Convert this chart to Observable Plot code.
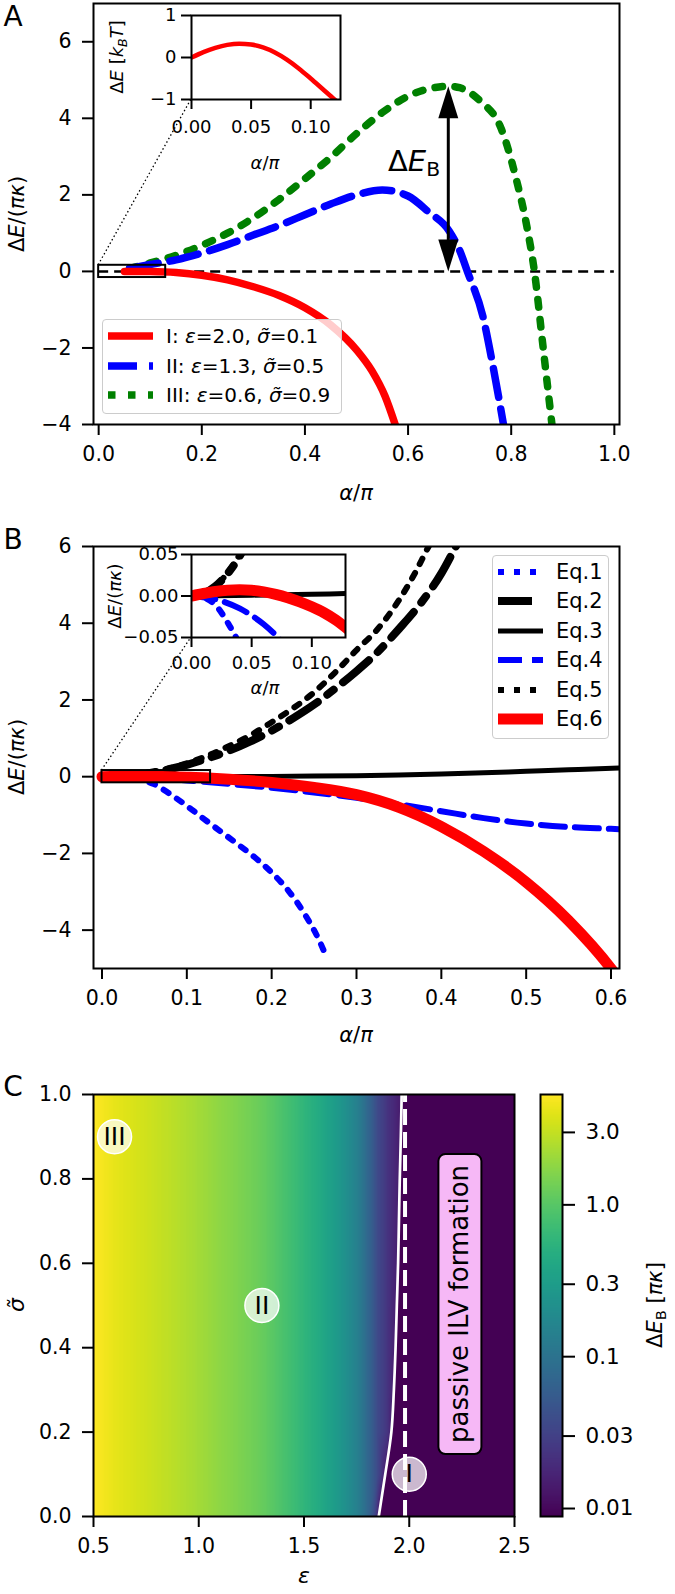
<!DOCTYPE html>
<html>
<head>
<meta charset="utf-8">
<script src="https://cdn.jsdelivr.net/npm/d3@7"></script>
<script src="https://cdn.jsdelivr.net/npm/@observablehq/plot@0.6"></script>
<style>
  html, body { margin: 0; padding: 0; background: #fff; }
  #root { position: relative; width: 675px; height: 1594px; overflow: hidden; font-family: "DejaVu Sans", sans-serif; color: #000; }
  #root svg { position: absolute; }
  .lbl { position: absolute; white-space: nowrap; line-height: 1; }
  .sub { font-size: 0.7em; vertical-align: -0.28em; }
  .legend { position: absolute; background: rgba(255,255,255,0.8); border: 1px solid #cccccc; border-radius: 4px; box-sizing: border-box; }
  .pbox { position: absolute; white-space: nowrap; background: #f6b8f6; border: 2px solid #000; border-radius: 8px; padding: 5px 10px; line-height: 1.2; }
</style>
</head>
<body>
<div id="root"></div>
<script>
// ---------------- DATA ----------------
// Panel A : Delta E/(pi kappa) vs alpha/pi
const aX_I   = [0.05, 0.1, 0.15, 0.2, 0.25, 0.3, 0.35, 0.4, 0.45, 0.5, 0.53, 0.555, 0.575];
const aY_I   = [0, -0.005, -0.03, -0.1, -0.22, -0.4, -0.63, -0.95, -1.4, -2.05, -2.6, -3.25, -4.0];
const aX_II  = [0.06, 0.1, 0.15, 0.2, 0.25, 0.3, 0.35, 0.4, 0.45, 0.5, 0.55, 0.6, 0.64, 0.68, 0.7, 0.715, 0.745, 0.765, 0.785];
const aY_II  = [0.08, 0.18, 0.3, 0.48, 0.7, 0.95, 1.2, 1.48, 1.76, 2.0, 2.13, 1.97, 1.55, 1.05, 0.55, 0.0, -1.17, -2.5, -4.0];
const aX_III = [0.06, 0.1, 0.15, 0.2, 0.25, 0.3, 0.35, 0.4, 0.45, 0.5, 0.55, 0.6, 0.65, 0.678, 0.7, 0.74, 0.78, 0.81, 0.83, 0.845, 0.862, 0.879];
const aY_III = [0.08, 0.22, 0.42, 0.68, 1.0, 1.4, 1.88, 2.42, 2.98, 3.6, 4.15, 4.58, 4.8, 4.84, 4.8, 4.45, 3.75, 2.4, 1.2, 0.0, -2.0, -4.0];
const aXTicks = [0, 0.2, 0.4, 0.6, 0.8, 1.0];
const aYTicks = [-4, -2, 0, 2, 4, 6];
const zeroLineX = [0, 1.0];
const barrierArrow = {x: 0.678, y0: 0, y1: 4.84};
const zoomRectA = {x1: 0, x2: 0.13, y1: -0.16, y2: 0.16};
// inset A (kBT units)
const insAX = [0, 0.01, 0.02, 0.03, 0.04, 0.05, 0.06, 0.07, 0.08, 0.09, 0.1, 0.11, 0.12, 0.125];
const insAY = [0, 0.13, 0.23, 0.3, 0.33, 0.31, 0.24, 0.12, -0.05, -0.26, -0.5, -0.75, -1.0, -1.12];
const insAXTicks = [0, 0.05, 0.1];
const insAYTicks = [-1, 0, 1];
const legendA = ["I", "II", "III"];
const legendAeps = ["2.0", "1.3", "0.6"];
const legendAsig = ["0.1", "0.5", "0.9"];

// Panel B : approximations Eq.1 .. Eq.6
const bX1 = [0, 0.01, 0.02, 0.03, 0.04, 0.05, 0.062, 0.08, 0.1, 0.12, 0.14, 0.16, 0.18, 0.2, 0.22, 0.24, 0.255, 0.265];
const bY1 = [0, -0.002, -0.011, -0.032, -0.06, -0.11, -0.2, -0.45, -0.76, -1.1, -1.43, -1.76, -2.1, -2.5, -2.98, -3.62, -4.22, -4.72];
const bX2 = [0, 0.01, 0.02, 0.03, 0.04, 0.06, 0.08, 0.1, 0.125, 0.15, 0.175, 0.2, 0.225, 0.25, 0.275, 0.3, 0.325, 0.35, 0.375, 0.4, 0.417, 0.425];
const bY2 = [0, 0.003, 0.012, 0.027, 0.048, 0.11, 0.2, 0.31, 0.48, 0.68, 0.92, 1.2, 1.52, 1.88, 2.3, 2.75, 3.25, 3.85, 4.5, 5.3, 6.0, 6.35];
const bX3 = [0, 0.05, 0.1, 0.15, 0.2, 0.25, 0.3, 0.35, 0.4, 0.45, 0.5, 0.55, 0.61];
const bY3 = [0, 0.001, 0.002, 0.004, 0.008, 0.015, 0.027, 0.045, 0.07, 0.1, 0.14, 0.18, 0.23];
const bX4 = [0, 0.02, 0.04, 0.06, 0.07, 0.1, 0.15, 0.2, 0.25, 0.3, 0.35, 0.4, 0.45, 0.5, 0.55, 0.6, 0.61];
const bY4 = [0, -0.004, -0.015, -0.034, -0.047, -0.1, -0.19, -0.29, -0.41, -0.55, -0.72, -0.9, -1.08, -1.22, -1.31, -1.36, -1.37];
const bX5 = [0, 0.01, 0.02, 0.03, 0.04, 0.06, 0.08, 0.1, 0.125, 0.15, 0.175, 0.2, 0.225, 0.25, 0.275, 0.3, 0.325, 0.35, 0.37, 0.385, 0.39];
const bY5 = [0, 0.003, 0.012, 0.028, 0.05, 0.12, 0.22, 0.35, 0.55, 0.8, 1.08, 1.42, 1.78, 2.2, 2.72, 3.3, 3.85, 4.6, 5.35, 6.0, 6.2];
const bX6 = [0, 0.01, 0.02, 0.03, 0.04, 0.05, 0.06, 0.07, 0.08, 0.09, 0.1, 0.11, 0.12, 0.13, 0.15, 0.2, 0.25, 0.3, 0.35, 0.4, 0.45, 0.5, 0.55, 0.6, 0.61];
const bY6 = [0, 0.003, 0.0055, 0.007, 0.0075, 0.007, 0.005, 0.002, -0.002, -0.007, -0.013, -0.02, -0.029, -0.04, -0.065, -0.15, -0.28, -0.47, -0.8, -1.3, -1.95, -2.75, -3.75, -5.0, -5.3];
const bXTicks = [0, 0.1, 0.2, 0.3, 0.4, 0.5, 0.6];
const bYTicks = [-4, -2, 0, 2, 4, 6];
const zoomRectB = {x1: 0, x2: 0.128, y1: -0.16, y2: 0.16};
const insBXTicks = [0, 0.05, 0.1];
const insBYTicks = [-0.05, 0, 0.05];
const legendB = ["Eq.1", "Eq.2", "Eq.3", "Eq.4", "Eq.5", "Eq.6"];

// Panel C : barrier height map over (epsilon, sigma~)
const epsCols   = [0.5, 0.6, 0.7, 0.8, 0.9, 1.0, 1.1, 1.2, 1.3, 1.4, 1.5, 1.6, 1.7, 1.8, 1.85, 1.9, 1.95];
const barrierEB = [5.3, 4.2, 3.6, 3.1, 2.65, 2.2, 1.8, 1.5, 1.2, 0.85, 0.58, 0.38, 0.21, 0.075, 0.036, 0.022, 0.015];
const bndSigma  = [0, 0.1, 0.2, 0.3, 0.4, 0.5, 0.6, 0.7, 0.8, 0.9, 1.0];
const bndEps    = [1.855, 1.886, 1.915, 1.927, 1.935, 1.941, 1.947, 1.951, 1.955, 1.96, 1.964];
const edgeValue = 0.015;       // barrier just left of the white line
const passiveValue = 0.00886;  // passive region (colour floor)
const maxValue = 5.33;
const epsMax = 2.5;
const critEps = 1.98;
const cXTicks = [0.5, 1.0, 1.5, 2.0, 2.5];
const cYTicks = [0, 0.2, 0.4, 0.6, 0.8, 1.0];
const caseLabels = ["III", "II", "I"];
const caseEps    = [0.6, 1.3, 2.0];
const caseSigma  = [0.9, 0.5, 0.1];
const cbTicks  = [3.0, 1.0, 0.3, 0.1, 0.03, 0.01];
const cbLabels = ["3.0", "1.0", "0.3", "0.1", "0.03", "0.01"];

// ---------------- HELPERS ----------------
const root = document.getElementById("root");
const FONT = '"DejaVu Sans", sans-serif';
const FS = 20.5, FSI = 18;
const pts = (xs, ys) => xs.map((x, i) => ({x, y: ys[i]}));
function put(el, left, top) { el.style.position = "absolute"; el.style.left = left + "px"; el.style.top = top + "px"; root.appendChild(el); return el; }
const baseStyle = (fs) => ({background: "transparent", fontFamily: FONT, fontSize: fs + "px", color: "black", overflow: "visible"});
function label(html, cx, cy, size, rotate) {
  const d = document.createElement("div");
  d.className = "lbl";
  d.innerHTML = html;
  d.style.left = cx + "px"; d.style.top = cy + "px";
  d.style.fontSize = size + "px";
  d.style.transform = "translate(-50%,-50%)" + (rotate ? ` rotate(${rotate}deg)` : "");
  root.appendChild(d);
  return d;
}
const headSym = { draw(ctx) { ctx.moveTo(0, 0); ctx.lineTo(-10, 32); ctx.lineTo(10, 32); ctx.closePath(); } };
const fmt1 = d3.format(".1f"), fmt2 = d3.format(".2f"), fmtD = d3.format("d");

// ---------------- PANEL A ----------------
const styleI   = {stroke: "#ff0000", strokeWidth: 7.5};
const styleII  = {stroke: "#0000ff", strokeWidth: 7.5, strokeDasharray: "29,12"};
const styleIII = {stroke: "#008000", strokeWidth: 7.5, strokeDasharray: "7.5,12.5"};
const pA = Plot.plot({
  width: 675, height: 520, marginLeft: 93, marginRight: 56, marginTop: 3, marginBottom: 96,
  x: {domain: [-0.01, 1.01]}, y: {domain: [-4, 7]},
  style: baseStyle(FS),
  marks: [
    Plot.ruleY([0], {x1: zeroLineX[0], x2: zeroLineX[1], stroke: "black", strokeWidth: 2.5, strokeDasharray: "10,6"}),
    Plot.line(pts(aX_III, aY_III), {x: "x", y: "y", ...styleIII, curve: "monotone-x", clip: true}),
    Plot.line(pts(aX_II, aY_II), {x: "x", y: "y", ...styleII, curve: "monotone-x", clip: true}),
    Plot.line(pts(aX_I, aY_I), {x: "x", y: "y", ...styleI, curve: "monotone-x", clip: true}),
    Plot.rect([zoomRectA], {x1: "x1", x2: "x2", y1: "y1", y2: "y2", fill: "none", stroke: "black", strokeWidth: 2}),
    Plot.ruleX([barrierArrow], {x: "x", y1: d => d.y0 + 0.5, y2: d => d.y1 - 0.5, stroke: "black", strokeWidth: 3}),
    Plot.dot([barrierArrow], {x: "x", y: "y1", symbol: headSym, fill: "black", stroke: "none"}),
    Plot.dot([barrierArrow], {x: "x", y: "y0", symbol: headSym, rotate: 180, fill: "black", stroke: "none"}),
    Plot.frame({stroke: "black", strokeWidth: 2}),
    Plot.axisX({ticks: aXTicks, tickFormat: fmt1, tickSize: 11, tickPadding: 11, label: null, strokeWidth: 2}),
    Plot.axisY({ticks: aYTicks, tickFormat: fmtD, tickSize: 11, tickPadding: 11, label: null, strokeWidth: 2})
  ]
});
put(pA, 0, 0);

// ---------------- PANEL B ----------------
const sEq = [
  {stroke: "#0000ff", strokeWidth: 6, strokeDasharray: "6,10"},
  {stroke: "#000000", strokeWidth: 8, strokeDasharray: "34,12,8,12"},
  {stroke: "#000000", strokeWidth: 5},
  {stroke: "#0000ff", strokeWidth: 6, strokeDasharray: "24,10"},
  {stroke: "#000000", strokeWidth: 6, strokeDasharray: "6,10"},
  {stroke: "#ff0000", strokeWidth: 11}
];
const bSeries = [pts(bX1, bY1), pts(bX2, bY2), pts(bX3, bY3), pts(bX4, bY4), pts(bX5, bY5), pts(bX6, bY6)];
const pB = Plot.plot({
  width: 675, height: 540, marginLeft: 93, marginRight: 56, marginTop: 26, marginBottom: 92,
  x: {domain: [-0.01, 0.61]}, y: {domain: [-5, 6]},
  style: baseStyle(FS),
  marks: [
    ...bSeries.map((s, i) => Plot.line(s, {x: "x", y: "y", ...sEq[i], curve: "monotone-x", clip: true})),
    Plot.rect([zoomRectB], {x1: "x1", x2: "x2", y1: "y1", y2: "y2", fill: "none", stroke: "black", strokeWidth: 2}),
    Plot.frame({stroke: "black", strokeWidth: 2}),
    Plot.axisX({ticks: bXTicks, tickFormat: fmt1, tickSize: 11, tickPadding: 11, label: null, strokeWidth: 2}),
    Plot.axisY({ticks: bYTicks, tickFormat: fmtD, tickSize: 11, tickPadding: 11, label: null, strokeWidth: 2})
  ]
});
put(pB, 0, 520);

// ---------------- PANEL C ----------------
const cells = [];
bndSigma.forEach((s, r) => {
  const eb = bndEps[r];
  epsCols.forEach((e, c) => { if (e <= eb - 0.01) cells.push({e, s, v: barrierEB[c]}); });
  cells.push({e: eb - 0.003, s, v: edgeValue});
  cells.push({e: eb + 0.003, s, v: passiveValue});
  cells.push({e: epsMax, s, v: passiveValue});
});
const circles = caseLabels.map((t, i) => ({t, x: caseEps[i], y: caseSigma[i]}));
const pC = Plot.plot({
  width: 530, height: 534, marginLeft: 93, marginRight: 16, marginTop: 34, marginBottom: 78,
  x: {domain: [0.5, 2.5]}, y: {domain: [0, 1]},
  color: {type: "log", domain: [passiveValue, maxValue], scheme: "viridis"},
  style: baseStyle(FS),
  marks: [
    Plot.raster(cells, {x: "e", y: "s", fill: "v", interpolate: "barycentric", x1: 0.5, x2: 2.5, y1: 0, y2: 1}),
    Plot.line(pts(bndEps, bndSigma), {x: "x", y: "y", stroke: "white", strokeWidth: 2.7, curve: "monotone-y"}),
    Plot.ruleX([critEps], {y1: 0, y2: 1, stroke: "white", strokeWidth: 4, strokeDasharray: "16,7"}),
    Plot.dot(circles, {x: "x", y: "y", r: 17, fill: "white", fillOpacity: 0.72, stroke: "white", strokeWidth: 1.5}),
    Plot.text(circles, {x: "x", y: "y", text: "t", fontSize: 25, fill: "black"}),
    Plot.frame({stroke: "black", strokeWidth: 2}),
    Plot.axisX({ticks: cXTicks, tickFormat: fmt1, tickSize: 11, tickPadding: 11, label: null, strokeWidth: 2}),
    Plot.axisY({ticks: cYTicks, tickFormat: fmt1, tickSize: 11, tickPadding: 11, label: null, strokeWidth: 2})
  ]
});
put(pC, 0, 1060);

// colourbar
const lo = Math.log10(passiveValue), hi = Math.log10(maxValue);
const pCB = Plot.plot({
  width: 155, height: 534, marginLeft: 20, marginRight: 113, marginTop: 34, marginBottom: 78,
  x: {domain: [0, 1], axis: null}, y: {domain: [lo, hi]},
  color: {type: "log", domain: [passiveValue, maxValue], scheme: "viridis"},
  style: baseStyle(21.5),
  marks: [
    Plot.raster({fill: (x, y) => Math.pow(10, y), x1: 0, x2: 1, y1: lo, y2: hi}),
    Plot.frame({stroke: "black", strokeWidth: 2}),
    Plot.axisY({anchor: "right", ticks: cbTicks.map(Math.log10), tickSize: 12, tickPadding: 11, label: null, strokeWidth: 2,
      tickFormat: d => cbLabels[cbTicks.findIndex(t => Math.abs(Math.log10(t) - d) < 1e-9)]})
  ]
});
put(pCB, 520, 1060);

// ---------------- CONNECTORS (dotted) ----------------
const ov = d3.create("svg").attr("width", 675).attr("height", 1594).style("left", "0px").style("top", "0px").style("pointer-events", "none");
root.appendChild(ov.node());

// ---------------- INSETS ----------------
const iA = Plot.plot({
  width: 240, height: 150, marginLeft: 71, marginRight: 20, marginTop: 15, marginBottom: 51,
  x: {domain: [0, 0.125]}, y: {domain: [-1, 1]},
  style: baseStyle(FSI),
  marks: [
    Plot.frame({fill: "white"}),
    Plot.line(pts(insAX, insAY), {x: "x", y: "y", stroke: "#ff0000", strokeWidth: 4.5, curve: "monotone-x", clip: true}),
    Plot.frame({stroke: "black", strokeWidth: 2}),
    Plot.axisX({ticks: insAXTicks, tickFormat: fmt2, tickSize: 10, tickPadding: 11, label: null, strokeWidth: 2}),
    Plot.axisY({ticks: insAYTicks, tickFormat: fmtD, tickSize: 10, tickPadding: 5, label: null, strokeWidth: 2})
  ]
});
put(iA, 120, 0);

const iB = Plot.plot({
  width: 250, height: 150, marginLeft: 81, marginRight: 15, marginTop: 24, marginBottom: 43,
  x: {domain: [0, 0.128]}, y: {domain: [-0.05, 0.05]},
  style: baseStyle(FSI),
  marks: [
    Plot.frame({fill: "white"}),
    ...bSeries.map((s, i) => Plot.line(s, {x: "x", y: "y", ...sEq[i], curve: "monotone-x", clip: true})),
    Plot.frame({stroke: "black", strokeWidth: 2}),
    Plot.axisX({ticks: insBXTicks, tickFormat: fmt2, tickSize: 10, tickPadding: 9, label: null, strokeWidth: 2}),
    Plot.axisY({ticks: insBYTicks, tickFormat: fmt2, tickSize: 10, tickPadding: 3, label: null, strokeWidth: 2})
  ]
});
put(iB, 110, 530);

// connectors from the zoom rectangles to the inset corners
function connector(mainPlot, mainTop, rect, inset, insLeft, insTop, insX0, insY0) {
  const mx = mainPlot.scale("x").apply(rect.x1), my = mainPlot.scale("y").apply(rect.y2) + mainTop;
  const ix = inset.scale("x").apply(insX0) + insLeft, iy = inset.scale("y").apply(insY0) + insTop;
  ov.append("line").attr("x1", mx).attr("y1", my).attr("x2", ix).attr("y2", iy)
    .attr("stroke", "black").attr("stroke-width", 1.3).attr("stroke-dasharray", "1.5,2.5");
}
connector(pA, 0, zoomRectA, iA, 120, 0, 0, -1);
connector(pB, 520, zoomRectB, iB, 110, 530, 0, -0.05);

// ---------------- LEGENDS ----------------
function makeLegend(box, rows, sx0, sx1, tx, fs) {
  const div = document.createElement("div");
  div.className = "legend";
  Object.assign(div.style, {left: box.left + "px", top: box.top + "px", width: box.width + "px", height: box.height + "px"});
  const svg = d3.create("svg").attr("width", box.width).attr("height", box.height).style("left", "-1px").style("top", "-1px").style("overflow", "visible");
  rows.forEach(r => {
    svg.append("line").attr("x1", sx0).attr("x2", sx1).attr("y1", r.y).attr("y2", r.y)
      .attr("stroke", r.style.stroke).attr("stroke-width", r.style.strokeWidth)
      .attr("stroke-dasharray", r.style.strokeDasharray || null);
    const t = document.createElement("div");
    t.className = "lbl"; t.innerHTML = r.html;
    t.style.left = (tx - 1) + "px"; t.style.top = (r.y - 1) + "px"; t.style.fontSize = fs + "px";
    t.style.transform = "translateY(-50%)";
    div.appendChild(t);
  });
  div.prepend(svg.node());
  root.appendChild(div);
}
const aStyles = [styleI, styleII, styleIII];
const aRowY = [17, 47, 76];
makeLegend({left: 102, top: 319, width: 240, height: 95},
  legendA.map((n, i) => ({y: aRowY[i], style: aStyles[i],
    html: `${n}: <i>ε</i>=${legendAeps[i]}, <i>σ̃</i>=${legendAsig[i]}`})),
  6, 51, 64, 20);
const bRowY = [17, 46, 76, 105, 135, 164];
makeLegend({left: 492, top: 555, width: 117, height: 184},
  legendB.map((n, i) => ({y: bRowY[i], style: sEq[i], html: n})),
  6, 51, 64, 21);

// ---------------- TEXT LABELS ----------------
label("A", 13, 17, 28);
label("B", 13, 540, 28);
label("C", 13, 1087, 28);
// panel A
label("Δ<i>E</i>/(<i>πκ</i>)", 17, 214, 21, -90);
label("<i>α</i>/<i>π</i>", 356, 493, 21);
label("Δ<i>E</i><span class='sub'>B</span>", 414, 163, 29);
label("Δ<i>E</i> [<i>k</i><span class='sub'><i>B</i></span><i>T</i>]", 119, 57, 18, -90);
label("<i>α</i>/<i>π</i>", 265, 163, 18);
// panel B
label("Δ<i>E</i>/(<i>πκ</i>)", 17, 757, 21, -90);
label("<i>α</i>/<i>π</i>", 356, 1035, 21);
label("Δ<i>E</i>/(<i>πκ</i>)", 115, 596, 18, -90);
label("<i>α</i>/<i>π</i>", 265, 688, 18);
// panel C
label("<i>σ̃</i>", 17, 1305, 22, -90);
label("<i>ε</i>", 304, 1576, 22);
label("Δ<i>E</i><span class='sub'>B</span> [<i>πκ</i>]", 657, 1305, 21, -90);
const pb = document.createElement("div");
pb.className = "pbox";
pb.textContent = "passive ILV formation";
pb.style.fontSize = "26px";
pb.style.left = "460px"; pb.style.top = "1304px";
pb.style.transform = "translate(-50%,-50%) rotate(-90deg)";
root.appendChild(pb);
</script>
</body>
</html>
